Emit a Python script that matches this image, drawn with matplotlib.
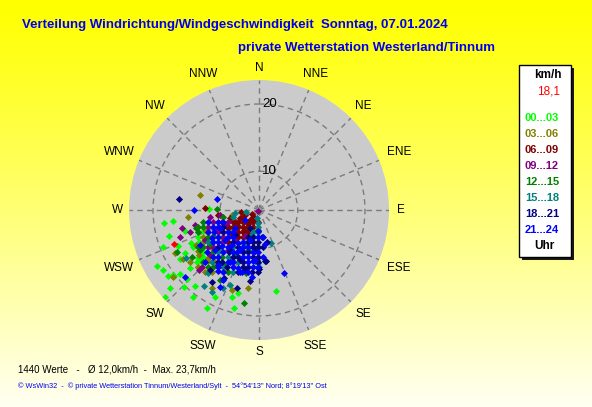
import numpy as np
import matplotlib
matplotlib.use('Agg')
import matplotlib.pyplot as plt
from matplotlib.patches import Rectangle

plt.rcParams['font.family'] = ['Liberation Sans', 'DejaVu Sans']

# wind direction (deg) / speed (km/h), one pair of lists per 3-hour block
dir_00_03 = [262, 263, 254, 254, 249, 241, 238, 233, 229, 224, 227, 208, 207, 194, 197, 194, 168,
             217, 226, 220, 234, 232, 231, 244, 240, 238, 229, 230, 246, 240, 250, 271, 242, 241, 230, 230,
             249, 233, 246, 232]
spd_00_03 = [18.7, 17.4, 16.0, 18.3, 19.6, 21.3, 21.0, 20.2, 21.6, 20.2, 22.8, 20.7, 18.9, 19.4, 18.0, 17.2, 16.9,
             20.4, 19.2, 19.1, 20.8, 20.2, 19.4, 15.8, 17.2, 18.3, 16.1, 17.9, 17.7, 13.4, 14.3, 11.9, 14.8, 15.9, 15.5, 16.6,
             13.5, 15.0, 14.5, 16.1]

dir_03_06 = [284, 264, 243, 232, 211, 188, 259, 237, 227, 199, 233, 233, 221, 231, 233, 238, 220, 241, 209, 248,
             244, 236, 225, 240, 217, 227, 227]
spd_03_06 = [13.6, 15.2, 18.4, 20.4, 18.0, 16.3, 7.9, 17.9, 17.0, 17.1, 17.3, 15.7, 16.8, 13.5, 11.3, 9.1, 14.7, 15.3,
             14.8, 13.1, 13.9, 15.6, 15.4, 14.2, 16.1, 15.0, 17.0]

dir_06_09 = [272, 250, 247, 243, 222, 240, 255, 233, 240, 217, 252, 207, 218, 228, 263, 264, 229, 185, 223, 240,
             221, 246, 199, 223, 237, 207, 224, 211, 224, 207, 233, 245, 216, 213, 231, 241, 218]
spd_06_09 = [12.6, 5.1, 6.4, 7.7, 4.8, 3.3, 8.4, 7.6, 9.5, 7.4, 10.0, 3.6, 5.7, 9.5, 10.4, 5.9, 11.1, 4.4, 5.4, 7.2,
             3.7, 5.7, 5.9, 7.0, 8.6, 7.3, 8.5, 8.7, 11.1, 4.8, 6.3, 8.1, 7.8, 6.3, 7.8, 9.4, 9.2]

dir_09_12 = [257, 262, 251, 263, 230, 246, 246, 241, 219, 227, 257, 218, 208, 225, 252, 249, 242, 233, 231, 225,
             255, 228, 252, 234]
spd_09_12 = [16.3, 11.8, 17.0, 10.1, 0.8, 11.6, 9.7, 13.8, 9.9, 14.5, 14.4, 12.0, 8.3, 17.1, 15.4, 9.0, 11.4, 11.1,
             13.3, 16.5, 11.5, 11.6, 12.5, 14.0]

dir_12_15 = [271, 254, 189, 243, 185, 192, 185, 183, 182, 212, 235, 208, 236, 209, 195, 259, 253, 250, 240, 237,
             218, 235, 219, 207, 258, 228, 227, 254, 242, 239, 222]
spd_12_15 = [10.5, 14.4, 18.4, 18.2, 12.1, 14.2, 6.5, 6.3, 11.9, 14.3, 13.5, 12.1, 15.2, 16.5, 10.5, 9.6, 13.3, 14.3,
             12.4, 14.6, 13.4, 16.7, 15.5, 14.9, 13.1, 13.9, 16.0, 14.0, 13.1, 15.2, 16.0]

dir_15_18 = [263, 261, 160, 182, 180, 184, 181, 210, 216, 205, 201, 237, 194, 208, 202, 224, 196, 255, 183, 238,
             215, 224, 202, 212, 219, 195, 222, 203, 183, 213]
spd_15_18 = [7.2, 4.8, 9.3, 9.6, 13.0, 4.6, 12.4, 18.5, 18.4, 17.3, 16.5, 17.5, 3.5, 13.0, 9.8, 12.9, 7.6, 7.8, 6.7,
             13.5, 11.2, 13.3, 12.9, 14.6, 16.6, 6.9, 15.0, 14.6, 5.7, 12.9]

dir_18_21 = [278, 173, 166, 172, 180, 207, 187, 174, 196, 213, 189, 201, 207, 216, 193, 219, 185, 224, 245, 193,
             182, 199, 189, 195, 216, 187, 209, 181, 218, 196, 181, 199, 174, 239, 191, 219, 201, 197, 215, 186,
             202, 182, 210, 228, 181, 204, 191, 209]
spd_18_21 = [16.6, 12.2, 8.9, 12.1, 13.3, 15.9, 15.2, 7.9, 16.7, 17.3, 9.7, 12.5, 6.3, 11.8, 13.8, 16.1, 10.5, 9.3,
             10.2, 8.0, 8.7, 9.1, 9.8, 10.8, 12.2, 11.5, 12.5, 12.2, 14.5, 13.4, 13.8, 14.4, 9.7, 10.6, 8.8, 10.4,
             11.1, 12.6, 14.1, 13.9, 8.2, 9.7, 10.6, 12.8, 11.4, 12.1, 13.2, 14.3]

dir_21_24 = [285, 270, 158, 170, 228, 207, 186, 207, 233, 229, 228, 205, 209, 226, 197, 245, 235, 239, 185, 197,
             183, 239, 218, 217, 254, 257, 250, 235, 247, 224, 213, 232, 203, 226, 181, 207, 231, 199, 224, 192,
             211, 186, 205, 190, 214, 172, 175, 252, 230, 244, 207, 235, 188, 212, 221, 187, 207, 195, 210, 248,
             182, 229, 237, 197, 220, 193, 221, 181, 200, 216]
spd_21_24 = [10.9, 14.3, 14.7, 9.3, 19.2, 17.3, 14.7, 16.3, 8.4, 11.1, 13.4, 11.0, 13.4, 15.8, 8.6, 10.8, 5.6, 12.7,
             11.9, 14.3, 6.5, 14.8, 11.0, 14.8, 10.7, 12.3, 11.7, 9.9, 12.8, 9.8, 10.0, 12.2, 10.3, 12.1, 10.5, 11.5,
             14.5, 11.8, 14.4, 12.4, 13.6, 13.1, 13.9, 14.0, 15.6, 7.9, 11.5, 9.9, 9.2, 12.0, 9.5, 12.9, 10.6, 11.8,
             12.8, 12.2, 13.2, 14.1, 15.3, 11.0, 7.8, 10.4, 11.7, 10.0, 11.6, 11.6, 13.9, 13.0, 13.7, 15.1]

current_dir = 248
current_spd = 18.1

hour_labels = ['00...03', '03...06', '06...09', '09...12', '12...15', '15...18', '18...21', '21...24']
hour_colors = ['#00ff00', '#808000', '#800000', '#800080', '#008000', '#008080', '#000080', '#0000ff']
directions = ['N', 'NNE', 'NE', 'ENE', 'E', 'ESE', 'SE', 'SSE',
              'S', 'SSW', 'SW', 'WSW', 'W', 'WNW', 'NW', 'NNW']
ring_values = [10, 20]

groups = [(dir_00_03, spd_00_03), (dir_03_06, spd_03_06), (dir_06_09, spd_06_09), (dir_09_12, spd_09_12),
          (dir_12_15, spd_12_15), (dir_15_18, spd_15_18), (dir_18_21, spd_18_21), (dir_21_24, spd_21_24)]

W, H = 592, 407
fig = plt.figure(figsize=(W / 100, H / 100), dpi=100)


def fx(px):
    return px / W


def fy(py):
    return 1 - py / H


# yellow -> cream background
bg = fig.add_axes([0, 0, 1, 1], zorder=0)
t = np.linspace(0, 1, 256)
img = np.ones((256, 1, 3))
img[:, 0, 2] = 0.95 * t ** 1.1
bg.imshow(img, aspect='auto', extent=[0, 1, 0, 1])
bg.axis('off')

# radius grows like v^1.45 (rings 10 / 20 are not evenly spaced)
EXP = 1.45


def tr(v):
    return np.asarray(v, dtype=float) ** EXP


RMAX = tr(20) * 130 / 106

ax = fig.add_axes([fx(129), fy(340), 260 / W, 260 / H], projection='polar', zorder=2)
ax.set_facecolor('#cbcbcb')
ax.set_theta_zero_location('N')
ax.set_theta_direction(-1)
ax.set_ylim(0, RMAX)
ax.spines['polar'].set_visible(False)
angles = np.radians(np.arange(0, 360, 22.5))
ax.set_xticks(angles)
ax.set_xticklabels([])
ax.tick_params(axis='x', length=0)
ax.set_yticks(tr(ring_values))
ax.set_yticklabels([])
ax.grid(True, color='#7c7c7c', linestyle=(0, (4, 3)), linewidth=1)
ax.set_axisbelow(True)

# compass labels just outside the disc (wider labels sit a bit further out)
for a, lab in zip(angles, directions):
    half = 0.5 * (9 * len(lab) * abs(np.sin(a)) + 10 * abs(np.cos(a)))
    ax.text(a, RMAX * (137 + half) / 130, lab, ha='center', va='center', fontsize=8.5, clip_on=False)

for v in ring_values:
    ax.annotate(str(v), xy=(0, tr(v)), xytext=(3, 0), textcoords='offset pixels',
                ha='left', va='center', fontsize=9.5)

ax.scatter([0], [0], marker='s', s=12, c='#9a9a9a', linewidths=0, zorder=2.5)
for (d, s), col in zip(groups, hour_colors):
    ax.scatter(np.radians(d), tr(s), marker='D', s=13, c=col, linewidths=0, zorder=3)
ax.scatter(np.radians([current_dir]), tr([current_spd]), marker='D', s=13, c='#ff0000', linewidths=0, zorder=4)

# titles
fig.text(fx(22), fy(25), 'Verteilung Windrichtung/Windgeschwindigkeit  Sonntag, 07.01.2024',
         color='#0000ee', fontsize=9.5, fontweight='bold', ha='left', va='center')
fig.text(fx(238), fy(48), 'private Wetterstation Westerland/Tinnum',
         color='#0000ee', fontsize=9.5, fontweight='bold', ha='left', va='center')

# footer
fig.text(fx(18), fy(369), '1440 Werte   -   Ø 12,0km/h  -  Max. 23,7km/h', fontsize=7, ha='left', va='center')
fig.text(fx(18), fy(386), "© WsWin32  -  © private Wetterstation Tinnum/Westerland/Sylt  -  54°54'13'' Nord; 8°19'13'' Ost",
         color='#0000ee', fontsize=5.3, ha='left', va='center')

# legend box with shadow
fig.patches.append(Rectangle((fx(522), fy(260)), 52 / W, 192 / H, transform=fig.transFigure,
                             facecolor='#1a1a1a', edgecolor='none', zorder=1))
fig.patches.append(Rectangle((fx(519), fy(257)), 52 / W, 192 / H, transform=fig.transFigure,
                             facecolor='white', edgecolor='black', linewidth=1, zorder=1))
fig.text(fx(548), fy(75), 'km/h', fontsize=8.5, fontweight='bold', ha='center', va='center')
fig.text(fx(549), fy(92), '18,1', fontsize=8.5, color='#ff0000', ha='center', va='center')
for i, (lab, col) in enumerate(zip(hour_labels, hour_colors)):
    fig.text(fx(542), fy(118 + i * 16), lab, fontsize=8, fontweight='bold', color=col, ha='center', va='center')
fig.text(fx(544), fy(246), 'Uhr', fontsize=8.5, fontweight='bold', ha='center', va='center')

fig.savefig('out.png', dpi=100)
